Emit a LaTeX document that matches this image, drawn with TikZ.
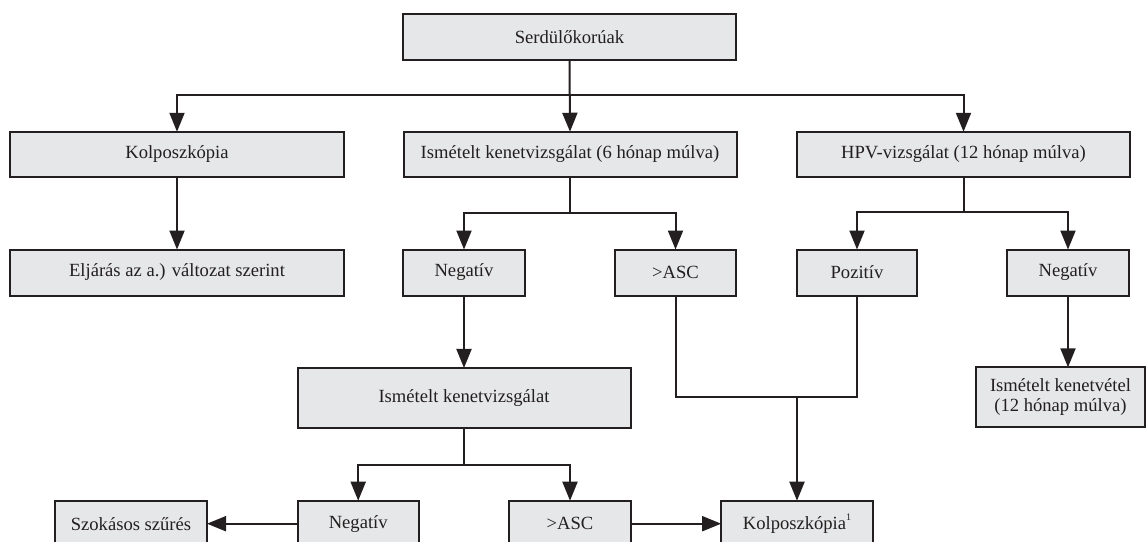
\documentclass[tikz,border=0pt]{standalone}
\usepackage{fontspec}
\setmainfont{Liberation Serif}
\usetikzlibrary{arrows.meta}
\definecolor{boxfill}{HTML}{E6E7E8}
\definecolor{ink}{HTML}{231F20}
\newcommand{\fnmark}[1]{\raisebox{0.45em}{\fontsize{10}{10}\selectfont #1}}
\begin{document}
\begin{tikzpicture}[x=1pt,y=-1pt,
  font=\fontsize{18.6}{20}\selectfont,
  box/.style={draw=ink, fill=boxfill, line width=2pt, inner sep=0pt, outer sep=0pt,
              minimum height=46pt, align=center, text=ink},
  link/.style={draw=ink, line width=2pt},
  arr/.style={link, -{Triangle[length=19pt,width=15pt]}}]
\useasboundingbox (0,0) rectangle (1146,541);

% first level
\node[box, minimum width=333pt, minimum height=45.5pt] (top) at (569.5,36.75) {Serdülőkorúak};

% second level
\node[box, minimum width=334pt, minimum height=45.5pt] (kolpA) at (177,154.5) {Kolposzkópia};
\node[box, minimum width=333pt, minimum height=45.5pt] (ism6) at (570,154.5) {Ismételt kenetvizsgálat (6 hónap múlva)};
\node[box, minimum width=333pt, minimum height=45.5pt] (hpv) at (963.5,154.5) {HPV-vizsgálat (12 hónap múlva)};

% third level
\node[box, minimum width=334pt] (elj) at (177,272.5) {Eljárás az a.) változat szerint};
\node[box, minimum width=122pt] (negA) at (464,272.5) {Negatív};
\node[box, minimum width=121pt] (ascA) at (675.5,272.5) {>ASC};
\node[box, minimum width=120pt] (poz) at (857,272.5) {Pozitív};
\node[box, minimum width=122pt] (negB) at (1068,272.5) {Negatív};

% fourth level
\node[box, minimum width=333pt, minimum height=60.5pt] (ism) at (464,398.2) {Ismételt kenetvizsgálat};
\node[box, minimum width=169pt, minimum height=60pt] (ismkv) at (1060.5,397.3) {Ismételt kenetvétel\\(12 hónap múlva)};

% bottom row
\node[box, minimum width=152pt] (szok) at (131,523.7) {Szokásos szűrés};
\node[box, minimum width=121pt] (negC) at (358.2,523.7) {Negatív};
\node[box, minimum width=121.4pt] (ascB) at (570,523.7) {>ASC};
\node[box, minimum width=151.7pt] (kolpB) at (797,523.7) {Kolposzkópia\fnmark{1}};

% branch points
\coordinate (s1) at (569.5,95);
\coordinate (s2) at (570,213);
\coordinate (s3) at (963.5,212);
\coordinate (s4) at (464,465);
\coordinate (j1) at (797,397);

% connectors
\draw[arr] (top.south) -- (ism6.north);
\draw[arr] (s1) -| (kolpA.north);
\draw[arr] (s1) -| (hpv.north);

\draw[arr] (kolpA.south) -- (elj.north);

\draw[link] (ism6.south) -- (s2);
\draw[arr] (s2) -| (negA.north);
\draw[arr] (s2) -| (ascA.north);

\draw[link] (hpv.south) -- (s3);
\draw[arr] (s3) -| (poz.north);
\draw[arr] (s3) -| (negB.north);

\draw[arr] (negA.south) -- (ism.north);
\draw[link] (ascA.south) |- (j1) -| (poz.south);
\draw[arr] (j1) -- (kolpB.north);
\draw[arr] (negB.south) -- (negB.south |- ismkv.north);

\draw[link] (ism.south) -- (s4);
\draw[arr] (s4) -| (negC.north);
\draw[arr] (s4) -| (ascB.north);

\draw[arr] (negC.west) -- (szok.east);
\draw[arr] (ascB.east) -- (kolpB.west);
\end{tikzpicture}
\end{document}
